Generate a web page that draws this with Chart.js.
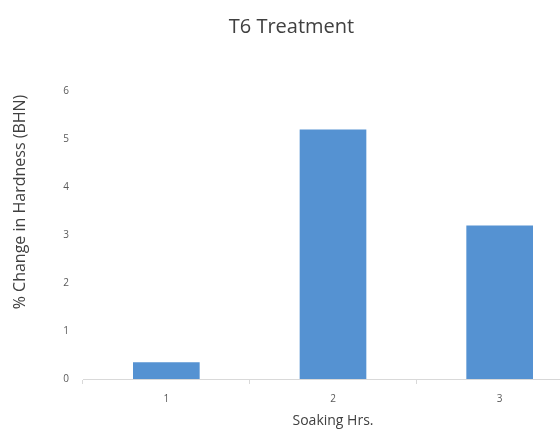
<!DOCTYPE html>
<html lang="en">
<head>
    <meta charset="UTF-8">
    <title>T6 Treatment</title>
    <script src="https://cdn.jsdelivr.net/npm/chart.js"></script>
    <style>
        body {
            margin: 0;
            padding: 0;
            background: #ffffff;
            overflow: hidden;
        }
        .wrap {
            width: 585px;
            height: 430px;
        }
    </style>
</head>
<body>
    <div class="wrap">
        <canvas id="hardnessChart" width="585" height="430"></canvas>
    </div>

    <script>
        // Data
        const soakingHrs = ["1", "2", "3"];
        const hardnessChange = [0.35, 5.2, 3.2];
        const yTicks = [0, 1, 2, 3, 4, 5, 6];
        const yTitle = "% Change in Hardness (BHN)";

        // y axis title sits a bit above the middle of the plot in the original
        const yTitlePlugin = {
            id: "yTitle",
            afterDraw(chart) {
                const c = chart.ctx;
                c.save();
                c.translate(20, 202);
                c.rotate(-Math.PI / 2);
                c.fillStyle = "#404040";
                c.font = "16px 'Open Sans'";
                c.textAlign = "center";
                c.textBaseline = "middle";
                c.fillText(yTitle, 0, 0);
                c.restore();
            }
        };

        const ctx = document.getElementById("hardnessChart").getContext("2d");
        new Chart(ctx, {
            type: "bar",
            data: {
                labels: soakingHrs,
                datasets: [{
                    label: yTitle,
                    data: hardnessChange,
                    backgroundColor: "#5592d2",
                    barPercentage: 0.4,
                    categoryPercentage: 1.0
                }]
            },
            plugins: [yTitlePlugin],
            options: {
                responsive: false,
                animation: false,
                layout: { padding: { top: 15, right: 2, bottom: 2, left: 0 } },
                plugins: {
                    legend: { display: false },
                    tooltip: { enabled: false },
                    title: {
                        display: true,
                        text: "T6 Treatment",
                        color: "#404040",
                        font: { family: "Open Sans", size: 20, weight: "normal" },
                        padding: { top: 0, bottom: 52 }
                    }
                },
                scales: {
                    x: {
                        grid: {
                            offset: true,
                            drawOnChartArea: false,
                            tickLength: 5,
                            color: "#d9d9d9"
                        },
                        border: { color: "#d9d9d9" },
                        ticks: {
                            color: "#595959",
                            font: { family: "Open Sans", size: 10 },
                            padding: 9
                        },
                        title: {
                            display: true,
                            text: "Soaking Hrs.",
                            color: "#404040",
                            font: { family: "Open Sans", size: 14, lineHeight: 1 },
                            padding: { top: 0, bottom: 0 }
                        }
                    },
                    y: {
                        min: 0,
                        max: 6,
                        afterBuildTicks: (scale) => {
                            scale.ticks = yTicks.map(v => ({ value: v }));
                        },
                        afterFit: (scale) => { scale.width = 83; },
                        grid: { display: false },
                        border: { display: false },
                        ticks: {
                            color: "#595959",
                            font: { family: "Open Sans", size: 10 },
                            padding: 6
                        }
                    }
                }
            }
        });
    </script>
</body>
</html>
